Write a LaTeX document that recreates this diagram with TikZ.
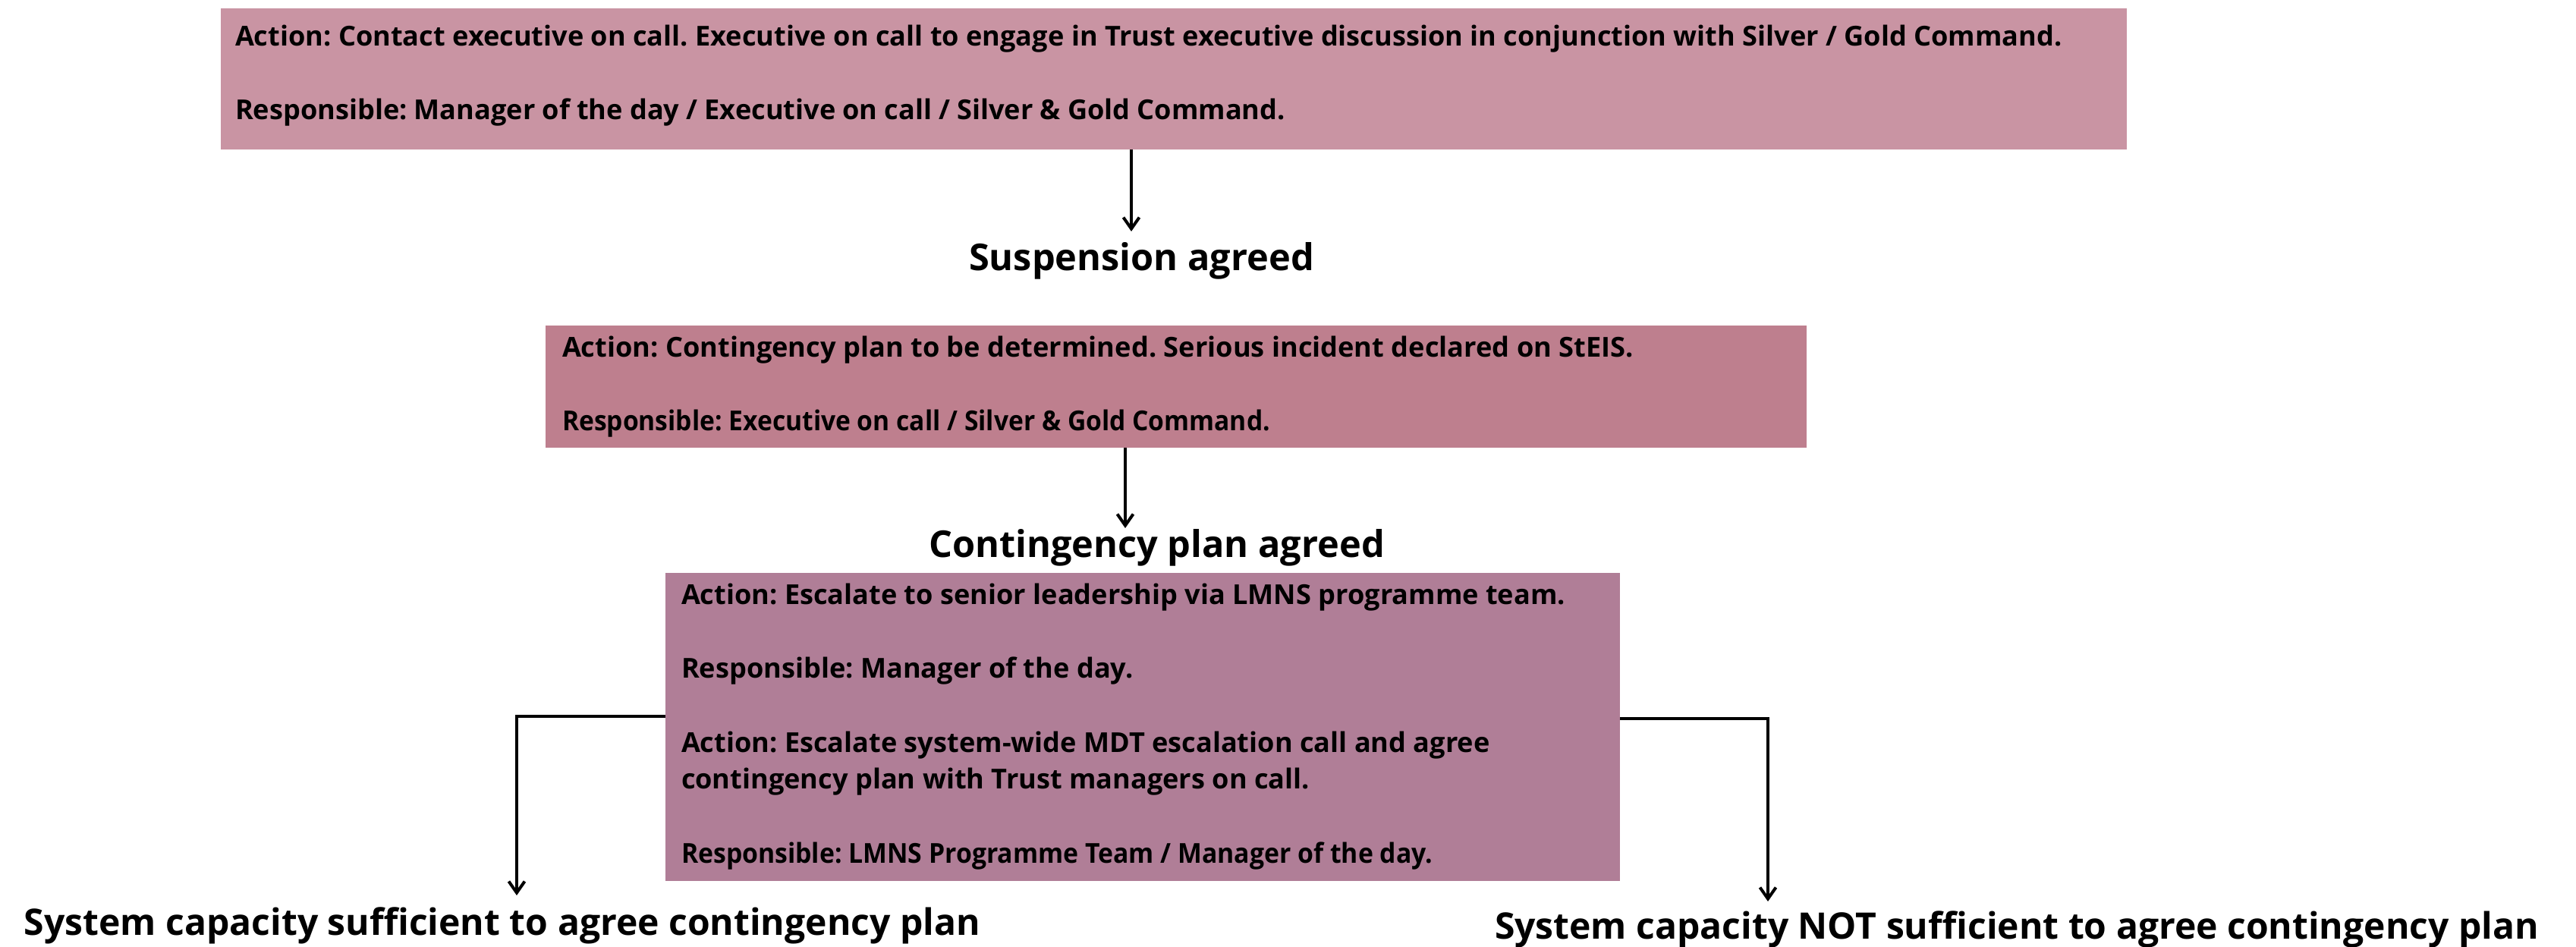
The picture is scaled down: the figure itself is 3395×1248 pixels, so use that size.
\documentclass[tikz,border=0pt]{standalone}
\usepackage{fontspec}
\usepackage{graphicx}
\setmainfont{Open Sans}
\usetikzlibrary{arrows.meta}
\definecolor{boxA}{RGB}{201,148,163}
\definecolor{boxB}{RGB}{190,127,142}
\definecolor{boxC}{RGB}{176,126,151}
\newlength\fitlen
\newcommand\fitsize[3]{\settowidth\fitlen{\fontsize{10pt}{12pt}\selectfont\bfseries #3}\pgfmathsetmacro#1{2.5*#2/\fitlen}\global\let#1#1}
\newcommand\fs[1]{\fontsize{#1pt}{#1pt}\selectfont\bfseries}
% horizontal squeeze factor for a line set at size #2 to reach #3 px
\newcommand\fitscale[4]{\settowidth\fitlen{\fs{#2}#4}\pgfmathsetmacro#1{0.25*#3/\fitlen}\global\let#1#1}
\begin{document}
\frenchspacing
\fitsize\sA{2408}{Action: Contact executive on call. Executive on call to engage in Trust executive discussion in conjunction with Silver / Gold Command.}%
\fitsize\sB{1412}{Action: Contingency plan to be determined. Serious incident declared on StEIS.}%
\fitsize\sC{1165}{Action: Escalate to senior leadership via LMNS programme team.}%
\fitscale\kB{\sB}{933}{Responsible: Executive on call / Silver \& Gold Command.}%
\fitscale\kC{\sC}{990}{Responsible: LMNS Programme Team / Manager of the day.}%
\fitsize\sT{455}{Suspension agreed}%
\fitsize\sU{601}{Contingency plan agreed}%
\fitsize\sL{1260}{System capacity sufficient to agree contingency plan}%
\fitsize\sR{1376}{System capacity NOT sufficient to agree contingency plan}%
\begin{tikzpicture}[x=0.25pt,y=-0.25pt,
  box/.style={draw=none, inner sep=0pt, outer sep=0pt, anchor=north west},
  txt/.style={inner sep=0pt, outer sep=0pt, anchor=base west, text=black},
  arr/.style={line width=1pt, -{Straight Barb[length=3.75pt,width=5.25pt,line width=1pt]}}]
\fill[white] (0,0) rectangle (3395,1248);
\useasboundingbox (0,0) rectangle (3395,1248);
% boxes
\node[box, fill=boxA, minimum width=628pt, minimum height=46.5pt] (b1) at (291,11) {};
\node[box, fill=boxB, minimum width=415.5pt, minimum height=40.25pt] (b2) at (719,429) {};
\node[box, fill=boxC, minimum width=314.5pt, minimum height=101.5pt] (b3) at (877,755) {};
% box 1 text
\node[txt, font=\fs{\sA}] (b1a) at (310,61) {Action: Contact executive on call. Executive on call to engage in Trust executive discussion in conjunction with Silver / Gold Command.};
\node[txt, font=\fs{\sA}] (b1b) at (310,158) {\makebox[346pt][s]{Responsible: Manager of the day / Executive on call / Silver \& Gold Command.}};
% box 2 text
\node[txt, font=\fs{\sB}] (b2a) at (741,471) {Action: Contingency plan to be determined. Serious incident declared on StEIS.};
\node[txt, font=\fs{\sB}] (b2b) at (741,568) {\scalebox{\kB}[1]{Responsible: Executive on call / Silver \& Gold Command.}};
% box 3 text
\node[txt, font=\fs{\sC}] (b3a) at (898,797) {Action: Escalate to senior leadership via LMNS programme team.};
\node[txt, font=\fs{\sC}] (b3b) at (898,894) {Responsible: Manager of the day.};
\node[txt, font=\fs{\sC}] (b3c) at (898,992) {Action: Escalate system-wide MDT escalation call and agree};
\node[txt, font=\fs{\sC}] (b3d) at (898,1040) {contingency plan with Trust managers on call.};
\node[txt, font=\fs{\sC}] (b3e) at (898,1138) {\scalebox{\kC}[1]{Responsible: LMNS Programme Team / Manager of the day.}};
% titles
\node[txt, font=\fs{\sT}] (sus) at (1277,357) {Suspension agreed};
\node[txt, font=\fs{\sU}] (con) at (1224,735) {Contingency plan agreed};
\node[txt, font=\fs{\sL}] (suf) at (32,1233) {System capacity sufficient to agree contingency plan};
\node[txt, font=\fs{\sR}] (nsuf) at (1970,1237) {System capacity NOT sufficient to agree contingency plan};
% connectors
\coordinate (t1) at (1491,305);
\coordinate (t2) at (1483,696);
\coordinate (j3) at (681,944);
\coordinate (t3) at (681,1180);
\coordinate (j4) at (2330,947);
\coordinate (t4) at (2330,1188);
\draw[arr] (b1.south -| t1) -- (t1);
\draw[arr] (b2.south -| t2) -- (t2);
\draw[arr] (b3.west |- j3) -- (j3) -- (t3);
\draw[arr] (b3.east |- j4) -- (j4) -- (t4);
\end{tikzpicture}
\end{document}
